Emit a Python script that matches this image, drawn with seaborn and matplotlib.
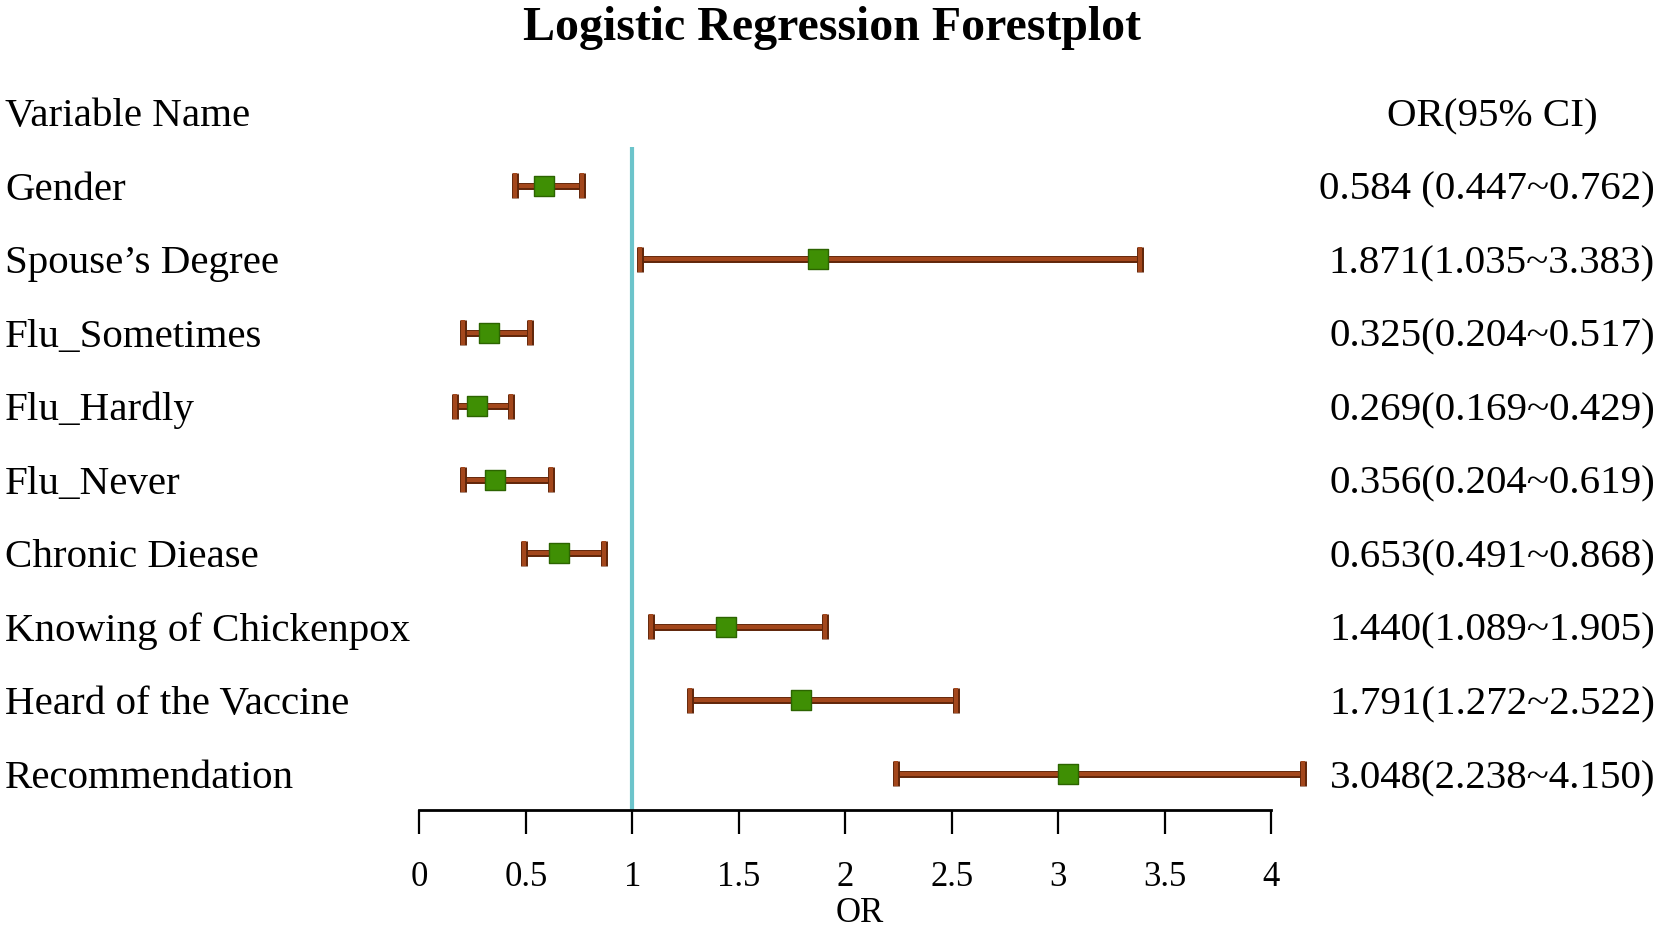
import matplotlib
matplotlib.use("Agg")
import matplotlib.pyplot as plt
import matplotlib.patheffects as pe
from matplotlib.transforms import blended_transform_factory
import seaborn as sns

# === data ===
variables = ["Gender", "Spouse\u2019s Degree", "Flu_Sometimes", "Flu_Hardly", "Flu_Never",
             "Chronic Diease", "Knowing of Chickenpox", "Heard of the Vaccine", "Recommendation"]
odds_ratio = [0.584, 1.871, 0.325, 0.269, 0.356, 0.653, 1.440, 1.791, 3.048]
ci_low = [0.447, 1.035, 0.204, 0.169, 0.204, 0.491, 1.089, 1.272, 2.238]
ci_high = [0.762, 3.383, 0.517, 0.429, 0.619, 0.868, 1.905, 2.522, 4.150]
ci_text = ["0.584 (0.447~0.762)", "1.871(1.035~3.383)", "0.325(0.204~0.517)",
           "0.269(0.169~0.429)", "0.356(0.204~0.619)", "0.653(0.491~0.868)",
           "1.440(1.089~1.905)", "1.791(1.272~2.522)", "3.048(2.238~4.150)"]
x_ticks = [0, 0.5, 1, 1.5, 2, 2.5, 3, 3.5, 4]
x_tick_labels = ["0", "0.5", "1", "1.5", "2", "2.5", "3", "3.5", "4"]

sns.set_style("white")
plt.rcParams['font.family'] = ['Liberation Serif', 'DejaVu Serif']
plt.rcParams['text.color'] = 'black'
plt.rcParams['axes.labelcolor'] = 'black'
plt.rcParams['xtick.color'] = 'black'

W, H = 1665, 932
fig = plt.figure(figsize=(W / 100, H / 100), dpi=100)

# plot area in pixels: x 0..4 -> 419.5..1271, bottom axis line at y=810 (from top)
left_px, right_px = 419.5, 1271
top_px, bottom_px = 112, 810
ax = fig.add_axes([left_px / W, 1 - bottom_px / H, (right_px - left_px) / W, (bottom_px - top_px) / H])

rows = list(range(len(variables)))
ax.set_xlim(0, 4)
ax.set_ylim(8.49, -1)

# reference line at OR = 1
ax.vlines(1, -0.53, 8.49, color="#6cc4cb", linewidth=3, zorder=1)

# confidence intervals
xerr = [[o - l for o, l in zip(odds_ratio, ci_low)], [h - o for o, h in zip(odds_ratio, ci_high)]]
eb = ax.errorbar(odds_ratio, rows, xerr=xerr, fmt='none', ecolor="#a3471c", elinewidth=3,
                 capsize=9, capthick=3, zorder=2)
for child in eb.get_children():
    child.set_clip_on(False)
    child.set_path_effects([pe.Stroke(linewidth=5, foreground="#5e2408"), pe.Normal()])

# point estimates
sns.scatterplot(x=odds_ratio, y=rows, marker='s', s=200, color="#3f8f04",
                edgecolor="#2c6400", linewidth=1, zorder=3, ax=ax, legend=False)

# axes styling
for side in ["top", "right", "left"]:
    ax.spines[side].set_visible(False)
ax.spines["bottom"].set_linewidth(2)
ax.spines["bottom"].set_color("black")
ax.spines["bottom"].set_bounds(0, 4)
ax.set_yticks([])
ax.set_xticks(x_ticks)
ax.set_xticklabels(x_tick_labels, fontsize=25)
ax.tick_params(axis='x', direction='out', length=17, width=1.6, pad=20, colors='black', bottom=True)
ax.set_xlabel("OR", fontsize=25)
ax.xaxis.set_label_coords(0.517, -0.124)

# text columns
tr = blended_transform_factory(fig.transFigure, ax.transData)
ax.text(5 / W, -1, "Variable Name", transform=tr, ha='left', va='center_baseline', fontsize=29.5)
ax.text(1492 / W, -1, "OR(95% CI)", transform=tr, ha='center', va='center_baseline', fontsize=29.5)
for r, name, txt in zip(rows, variables, ci_text):
    ax.text(5 / W, r, name, transform=tr, ha='left', va='center_baseline', fontsize=29.5)
    ax.text(1655 / W, r, txt, transform=tr, ha='right', va='center_baseline', fontsize=29.5)

fig.text(0.5, 1 - 28 / H, "Logistic Regression Forestplot", ha='center', va='center',
         fontsize=34.5, fontweight='bold')

fig.savefig("out.png", dpi=100)
